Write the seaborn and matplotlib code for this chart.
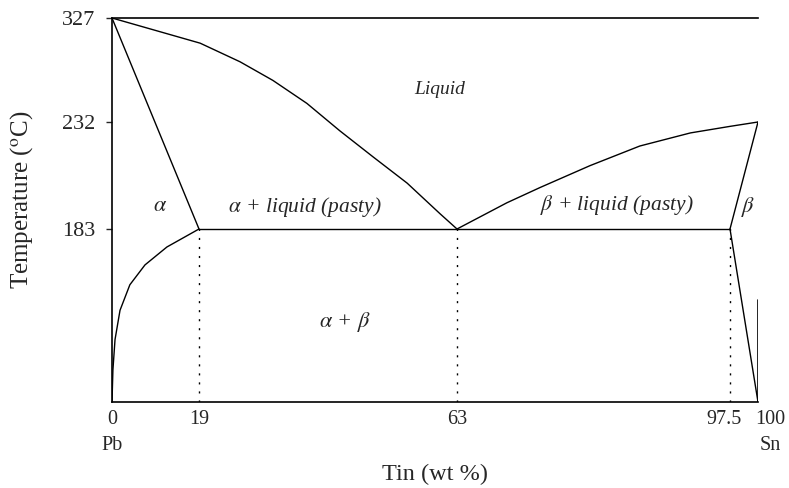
import numpy as np
import pandas as pd
import seaborn as sns
import matplotlib
from matplotlib.transforms import ScaledTranslation

matplotlib.use("Agg")
import matplotlib.pyplot as plt

# schematic (non-linear) axes: data value -> relative drawing position
x_breaks = [0, 19, 63, 97.5, 100]
x_pos = [0, 87, 345, 618, 646]
t_breaks = [0, 183, 232, 327]
t_pos = [0, 173, 280, 384]

# phase boundaries, tin wt % vs temperature (C)
liq_left_x = [0, 19.2, 26.0, 31.6, 37.4, 43.0, 48.7, 54.5, 60.1, 63]
liq_left_t = [327, 304, 287, 270, 249, 228, 216, 204, 190, 183]
liq_right_x = [63, 69.3, 73.5, 79.8, 86.1, 92.5, 97.5, 100]
liq_right_t = [183, 195, 202, 212, 221, 227, 230, 232]
solvus_a_x = [19, 12.0, 7.2, 3.9, 1.75, 0.66, 0.2, 0]
solvus_a_t = [183, 164, 145, 124, 97, 66, 34, 0]
solidus_a_x = [0, 19]
solidus_a_t = [327, 183]
solidus_b_x = [100, 97.5]
solidus_b_t = [232, 183]
solvus_b_x = [97.5, 100]
solvus_b_t = [183, 0]
eutectic_x = [19, 97.5]
eutectic_t = [183, 183]
guide_x = [19, 63, 97.5]

x_ticks = [0, 19, 63, 97.5, 100]
x_labels = ["0\nPb", "19", "63", "97.5", "100\nSn"]
t_ticks = [183, 232, 327]


def fwd(breaks, pos):
    return lambda v: np.interp(v, breaks, pos)


sns.set_style("white")
plt.rcParams["font.family"] = ["Liberation Serif", "DejaVu Serif"]
plt.rcParams["mathtext.fontset"] = "stix"

fig = plt.figure(figsize=(7.89, 4.88), dpi=100)
ax = fig.add_axes([112 / 789, 1 - 402 / 488, 646 / 789, 384 / 488])
ax.set_xscale("function", functions=(fwd(x_breaks, x_pos), fwd(x_pos, x_breaks)))
ax.set_yscale("function", functions=(fwd(t_breaks, t_pos), fwd(t_pos, t_breaks)))

curves = [
    (liq_left_x, liq_left_t),
    (liq_right_x, liq_right_t),
    (solvus_a_x, solvus_a_t),
    (solidus_a_x, solidus_a_t),
    (solidus_b_x, solidus_b_t),
    (solvus_b_x, solvus_b_t),
    (eutectic_x, eutectic_t),
]
for xs, ts in curves:
    df = pd.DataFrame({"x": xs, "t": ts})
    sns.lineplot(data=df, x="x", y="t", sort=False, color="black", lw=1.0, ax=ax)

for gx in guide_x:
    ax.plot([gx, gx], [0, 183], color="black", lw=1.0, ls=(0, (1.5, 5)))

# short right edge at pure tin
ax.plot([100, 100], [0, 108], color="black", lw=1.2)

ax.set_xlim(0, 100)
ax.set_ylim(0, 327)
ax.set_xticks(x_ticks)
ax.set_xticklabels(x_labels, fontsize=14.5, linespacing=1.5)
ax.set_yticks(t_ticks)
ax.set_yticklabels([str(t) for t in t_ticks], fontsize=16)
ax.minorticks_off()
ax.tick_params(axis="x", length=0, pad=6)
ax.tick_params(axis="y", length=4, width=1, direction="out", left=True, pad=8)

# spread the crowded labels at the tin end
shifts = {3: -6, 4: 12}
for i, lbl in enumerate(ax.get_xticklabels()):
    if i in shifts:
        lbl.set_transform(lbl.get_transform() + ScaledTranslation(shifts[i] / 100, 0, fig.dpi_scale_trans))

for side in ["left", "bottom", "top"]:
    ax.spines[side].set_color("black")
    ax.spines[side].set_linewidth(1.2)
ax.spines["right"].set_visible(False)

ax.set_xlabel("Tin (wt %)", fontsize=17.5)
ax.xaxis.set_label_coords(0.50, -0.162)
ax.set_ylabel("Temperature ($^{\\rm o}$C)", fontsize=18)
ax.yaxis.set_label_coords(-0.119, 0.526)

tr = ax.transAxes
lab = dict(style="italic", ha="center", va="center", transform=tr)
ax.text(0.508, 0.8125, "Liquid", fontsize=14, **lab)
ax.text(0.074, 0.508, r"$\alpha$", fontsize=16, ha="center", va="center", transform=tr)
ax.text(0.299, 0.508, r"$\alpha$ + liquid (pasty)", fontsize=15.5, **lab)
ax.text(0.782, 0.513, r"$\beta$ + liquid (pasty)", fontsize=15.5, **lab)
ax.text(0.985, 0.508, r"$\beta$", fontsize=16, ha="center", va="center", transform=tr)
ax.text(0.361, 0.208, r"$\alpha$ + $\beta$", fontsize=16, **lab)

fig.savefig("out.png", dpi=100)
plt.close(fig)
